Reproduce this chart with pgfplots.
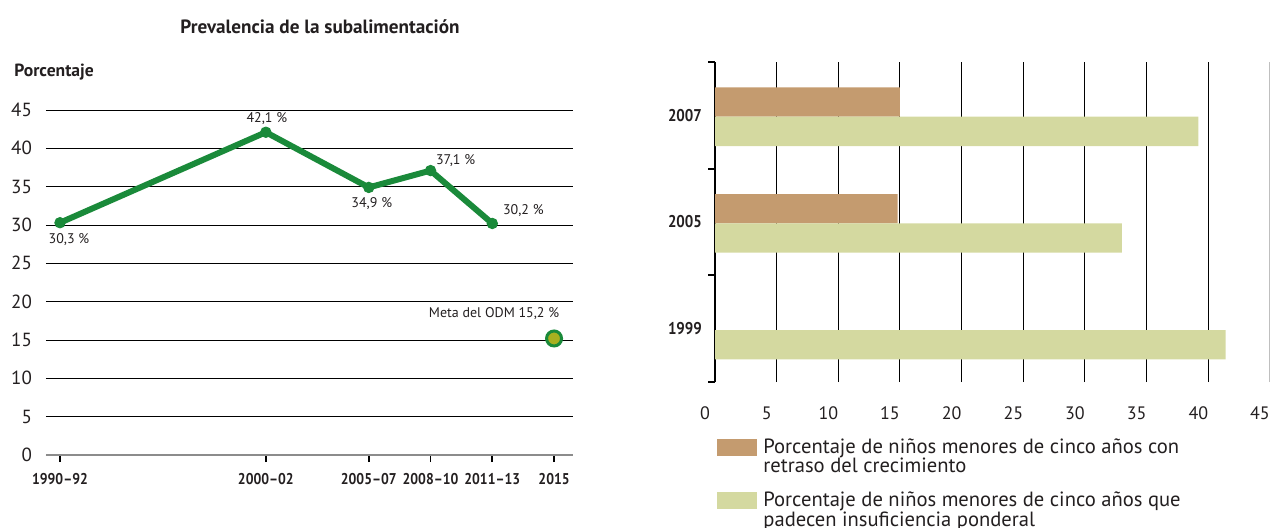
\documentclass[border=0pt]{standalone}
\usepackage{fontspec}
\setmainfont{PT Sans}
\newfontfamily\condfont[FakeStretch=0.88, Ligatures=TeX]{PT Sans}
\usepackage{pgfplots}
\pgfplotsset{compat=1.18}
\definecolor{lgreen}{HTML}{1A8A3A}
\definecolor{metafill}{HTML}{A8B020}
\definecolor{barbrown}{HTML}{C49B6F}
\definecolor{barpale}{HTML}{D4D9A0}
\definecolor{txt}{HTML}{231F20}
\definecolor{axgray}{HTML}{8C8C8C}
\tikzset{lbl/.style={font=\fontsize{7}{8}\selectfont, text=txt}}

\begin{document}
\begin{tikzpicture}
\path[use as bounding box] (0pt,0pt) rectangle (635.5pt,-263.5pt);

\node[font=\fontsize{9.6}{11}\selectfont\bfseries, text=txt] at (160pt,-13.5pt) {Prevalencia de la subalimentación};
\node[font=\fontsize{8.8}{10}\selectfont\bfseries, text=txt, anchor=west, inner sep=0pt] at (7pt,-36pt) {Porcentaje};

% left: prevalence line chart
\begin{axis}[
  at={(23pt,-227.5pt)}, anchor=south west,
  scale only axis, width=263.5pt, height=172.5pt,
  xmin=1990.32, xmax=2015.92, ymin=0, ymax=45,
  axis x line*=bottom, axis y line*=left,
  x axis line style={axgray, line width=0.8pt},
  y axis line style={draw=none},
  ytick={0,5,...,45}, ymajorgrids,
  grid style={black, line width=0.5pt},
  xtick={1991,2001,2006,2009,2012,2015},
  xticklabels={1990–92,2000–02,2005–07,2008–10,2011–13,2015},
  tick align=outside, major tick length=3.5pt,
  xtick style={black, line width=0.9pt},
  ytick style={draw=none},
  /pgf/number format/assume math mode=true,
  xticklabel style={font=\condfont\fontsize{7.8}{9}\selectfont\bfseries, text=txt, yshift=-2pt},
  yticklabel style={font=\fontsize{9.5}{11}\selectfont, text=txt},
  clip=false,
]
\addplot[lgreen, line width=3pt, mark=*, mark size=2.6pt,
  mark options={line width=0.5pt, fill=lgreen}]
  coordinates {(1991,30.3) (2001,42.1) (2006,34.9) (2009,37.1) (2012,30.2)};
\addplot[only marks, mark=*, mark size=3.75pt,
  mark options={draw=lgreen, fill=metafill, line width=1.5pt}]
  coordinates {(2015,15.2)};
\node[lbl, xshift=4.5pt, yshift=-8.6pt] at (axis cs:1991,30.3) {30,3 \%};
\node[lbl, xshift=0.5pt, yshift=7pt] at (axis cs:2001,42.1) {42,1 \%};
\node[lbl, xshift=1.5pt, yshift=-8.3pt] at (axis cs:2006,34.9) {34,9 \%};
\node[lbl, xshift=12.5pt, yshift=4.8pt] at (axis cs:2009,37.1) {37,1 \%};
\node[lbl, xshift=15.5pt, yshift=6.3pt] at (axis cs:2012,30.2) {30,2 \%};
\node[lbl, xshift=-30pt, yshift=12.7pt] at (axis cs:2015,15.2) {Meta del ODM 15,2 \%};
\end{axis}

% right: horizontal bars
\begin{axis}[
  at={(357.5pt,-191pt)}, anchor=south west,
  scale only axis, width=277.5pt, height=160pt,
  xmin=0, xmax=45, ymin=0, ymax=3,
  xbar, bar width=0.275,
  axis x line*=bottom, axis y line*=left,
  x axis line style={draw=none},
  y axis line style={black, line width=0.9pt},
  xtick={0,5,...,40}, xmajorgrids,
  grid style={black, line width=0.5pt},
  extra x ticks={45}, extra x tick style={grid style={gray!50, line width=0.5pt}},
  xtick style={draw=none},
  ytick={0.5,1.5,2.5}, yticklabels={1999,2005,2007},
  minor ytick={0,1,2,3},
  tick align=outside, major tick length=0pt, minor tick length=3.5pt,
  minor y tick style={black, line width=0.9pt},
  /pgf/number format/assume math mode=true,
  xticklabel style={font=\fontsize{9}{11}\selectfont, text=txt, yshift=-9pt, xshift=-5pt},
  yticklabel style={font=\condfont\fontsize{8.5}{10}\selectfont\bfseries, text=txt, xshift=-3pt},
  legend style={at={(0.0036,-0.175)}, anchor=north west, draw=none, fill=none,
    inner sep=0pt, row sep=18pt, column sep=3pt,
    font=\fontsize{10.3}{8.5}\selectfont, nodes={inner sep=0pt, text=txt}},
  legend cell align=left,
]
\addplot[fill=barbrown, draw=none, bar shift=0.125,
  legend image code/.code={\fill[barbrown] (0pt,-4.25pt) rectangle (20pt,4.25pt);}]
  coordinates {(14.8,1.5) (15.0,2.5)};
\addlegendentry{\begin{tabular}[t]{@{}l@{}}Porcentaje de niños menores de cinco años con\\retraso del crecimiento\end{tabular}}
\addplot[fill=barpale, draw=none, bar shift=-0.15,
  legend image code/.code={\fill[barpale] (0pt,-4.25pt) rectangle (20pt,4.25pt);}]
  coordinates {(41.4,0.5) (33.0,1.5) (39.2,2.5)};
\addlegendentry{\begin{tabular}[t]{@{}l@{}}Porcentaje de niños menores de cinco años que\\padecen insuficiencia ponderal\end{tabular}}
\end{axis}
\end{tikzpicture}
\end{document}
